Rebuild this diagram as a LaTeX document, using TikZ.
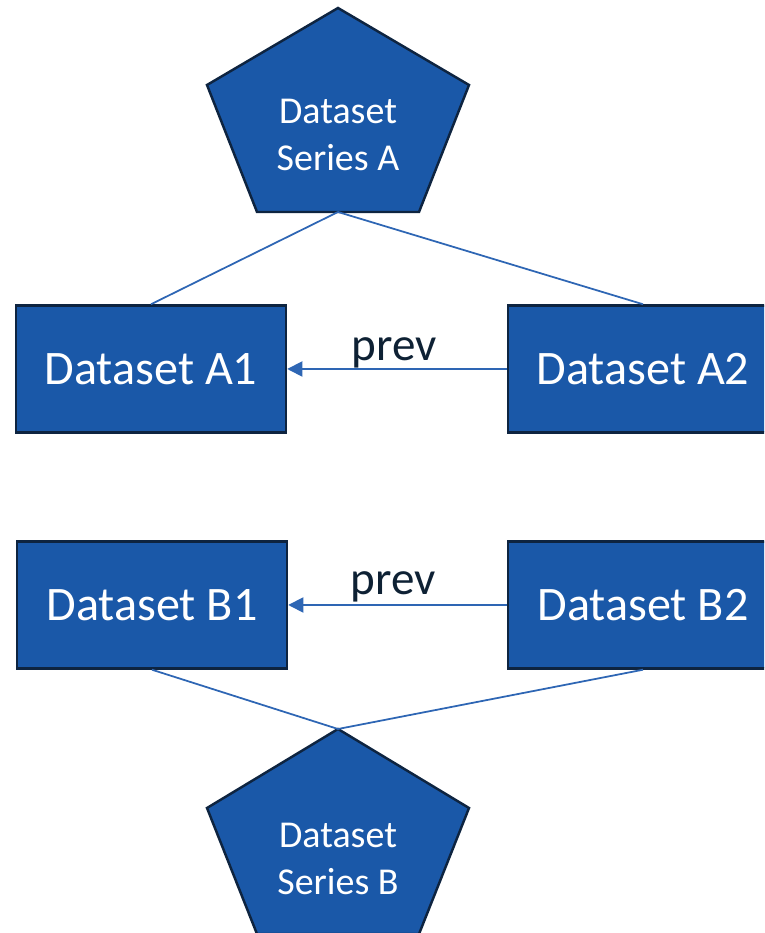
\documentclass[tikz,border=0pt]{standalone}
\usepackage{fontspec}
\setmainfont{Carlito}
\usetikzlibrary{arrows.meta}

\begin{document}
\begin{tikzpicture}

  \definecolor{shapefill}{RGB}{26,88,168}
  \definecolor{shapeline}{RGB}{14,36,64}
  \definecolor{linkblue}{RGB}{46,102,180}
  \definecolor{labeltext}{RGB}{14,33,52}

  \tikzstyle{dataset} = [draw=shapeline, fill=shapefill, line width=0.7, text=white,
                         minimum width=2.7cm, minimum height=1.27cm, inner sep=0,
                         font=\fontsize{13.7}{16}\selectfont]
  \tikzstyle{series} = [draw=shapeline, fill=shapefill, line width=0.7, line join=miter]
  \tikzstyle{serieslabel} = [text=white, align=center, inner sep=0,
                             font=\fontsize{10.8}{13.2}\selectfont]
  \tikzstyle{link} = [draw=linkblue, line width=0.5]
  \tikzstyle{prevlabel} = [text=labeltext, inner sep=0, font=\fontsize{13.4}{15}\selectfont]

  \useasboundingbox (0,0) rectangle (7.64,9.33);
  \clip (0,0) rectangle (7.64,9.33);

  % series A
  \draw[series] (3.38,9.25) -- (4.69,8.48) -- (4.19,7.21) -- (2.57,7.21) -- (2.07,8.48) -- cycle;
  \coordinate (sa-bot) at (3.38,7.21);
  \node[serieslabel] (sa) at (3.38,7.98) {Dataset\\Series A};

  \node[dataset] (a1) at (1.51,5.64) {Dataset A1};
  \node[dataset] (a2) at (6.43,5.64) {Dataset A2};

  \draw[link] (sa-bot) -- (a1.north);
  \draw[link] (sa-bot) -- (a2.north);
  \draw[link, -{Triangle[length=4.3pt, width=4.3pt]}] (a2.west) -- (a1.east)
    node[prevlabel, midway, anchor=base, yshift=0.8mm, xshift=-0.3mm] (pa) {prev};

  % series B
  \node[dataset] (b1) at (1.52,3.28) {Dataset B1};
  \node[dataset] (b2) at (6.43,3.28) {Dataset B2};

  \draw[series] (3.38,2.04) -- (4.69,1.25) -- (4.19,-0.01) -- (2.57,-0.01) -- (2.07,1.25) -- cycle;
  \coordinate (sb-top) at (3.38,2.04);
  \node[serieslabel] (sb) at (3.38,0.74) {Dataset\\Series B};

  \draw[link] (b1.south) -- (sb-top);
  \draw[link] (b2.south) -- (sb-top);
  \draw[link, -{Triangle[length=4.3pt, width=4.3pt]}] (b2.west) -- (b1.east)
    node[prevlabel, midway, anchor=base, yshift=1mm, xshift=-0.4mm] (pb) {prev};

\end{tikzpicture}
\end{document}
